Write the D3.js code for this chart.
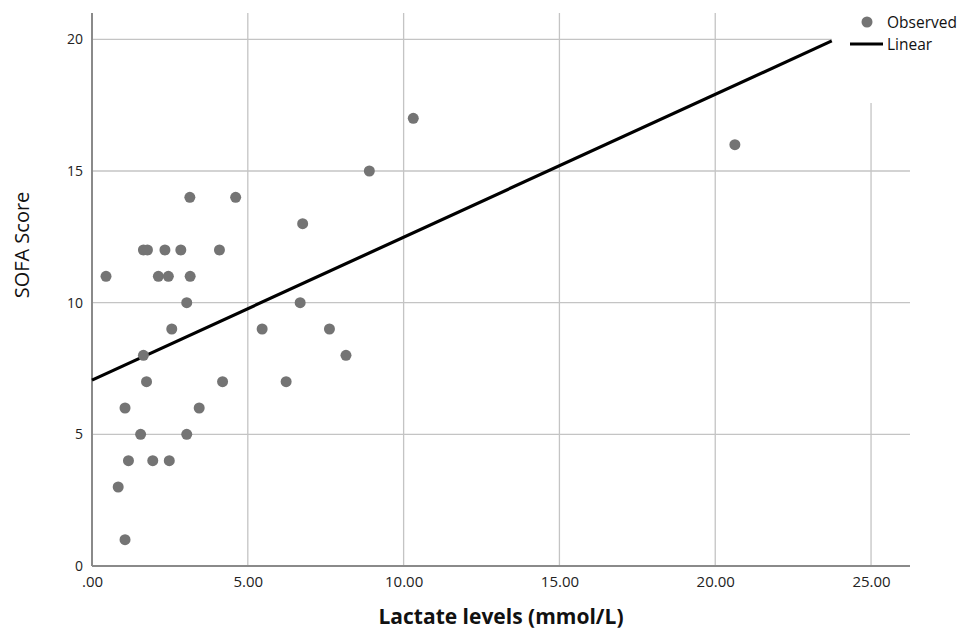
<!DOCTYPE html>
<html>
<head>
<meta charset="utf-8">
<script src="https://cdn.jsdelivr.net/npm/d3@7"></script>
<style>
  html, body { margin: 0; padding: 0; background: #fff; }
  svg { display: block; }
</style>
</head>
<body>
<div id="chart"></div>
<script>
// Observed points: lactate (mmol/L) vs SOFA score
const lactate = [3.14, 4.61, 1.65, 1.78, 2.34, 2.85, 4.09, 0.45, 2.13, 2.45, 3.15, 3.04,
                 2.56, 5.46, 1.65, 1.75, 4.19, 1.06, 3.44, 1.56, 3.04, 1.17, 1.95, 2.48,
                 0.84, 1.06, 10.31, 8.90, 20.63, 6.76, 6.68, 7.62, 8.15, 6.23];
const sofa    = [14, 14, 12, 12, 12, 12, 12, 11, 11, 11, 11, 10,
                 9, 9, 8, 7, 7, 6, 6, 5, 5, 4, 4, 4,
                 3, 1, 17, 15, 16, 13, 10, 9, 8, 7];

// Linear fit line endpoints
const fitX = [0, 23.74];
const fitY = [7.06, 19.94];

const xTicks = [0, 5, 10, 15, 20, 25];
const yTicks = [0, 5, 10, 15, 20];

const width = 969, height = 630;
const plot = {left: 92, right: 910, top: 13, bottom: 566};

const svg = d3.select('#chart').append('svg')
    .attr('width', width)
    .attr('height', height);

const x = d3.scaleLinear().domain([0, 26.25]).range([plot.left, plot.right]);
const y = d3.scaleLinear().domain([0, 21]).range([plot.bottom, plot.top]);

const gridColor = '#c4c4c4';

// vertical grid lines (the 25 line stops below the legend)
svg.append('g').selectAll('line')
    .data(xTicks.filter(d => d > 0))
    .enter().append('line')
    .attr('x1', d => x(d)).attr('x2', d => x(d))
    .attr('y1', plot.bottom)
    .attr('y2', d => d === 25 ? 103 : plot.top)
    .attr('stroke', gridColor)
    .attr('stroke-width', 1.3);

// horizontal grid lines (the 20 line stops at the legend)
svg.append('g').selectAll('line')
    .data(yTicks.filter(d => d > 0))
    .enter().append('line')
    .attr('x1', plot.left)
    .attr('x2', d => d === 20 ? x(fitX[1]) : plot.right)
    .attr('y1', d => y(d)).attr('y2', d => y(d))
    .attr('stroke', gridColor)
    .attr('stroke-width', 1.3);

// axes
const xAxis = d3.axisBottom(x).tickValues(xTicks).tickSize(0).tickPadding(10)
    .tickFormat(d => d === 0 ? '.00' : d3.format('.2f')(d));
const gx = svg.append('g')
    .attr('transform', `translate(0,${plot.bottom})`)
    .call(xAxis);
gx.select('.domain').attr('stroke', '#8a8a8a').attr('stroke-width', 2)
    .attr('d', `M${plot.left},0H${plot.right}`);
gx.selectAll('text')
    .style('font-family', '"Open Sans", sans-serif')
    .style('font-size', '15px')
    .style('fill', '#222');

const yAxis = d3.axisLeft(y).tickValues(yTicks).tickSize(0).tickPadding(9);
const gy = svg.append('g')
    .attr('transform', `translate(${plot.left},0)`)
    .call(yAxis);
gy.select('.domain').attr('stroke', '#8a8a8a').attr('stroke-width', 2)
    .attr('d', `M0,${plot.bottom}V${plot.top}`);
gy.selectAll('text')
    .style('font-family', '"Open Sans", sans-serif')
    .style('font-size', '14px')
    .style('fill', '#222');

// regression line
svg.append('line')
    .attr('x1', x(fitX[0])).attr('y1', y(fitY[0]))
    .attr('x2', x(fitX[1])).attr('y2', y(fitY[1]))
    .attr('stroke', '#000')
    .attr('stroke-width', 3.2);

// points
svg.append('g').selectAll('circle')
    .data(lactate.map((v, i) => ({x: v, y: sofa[i]})))
    .enter().append('circle')
    .attr('cx', d => x(d.x))
    .attr('cy', d => y(d.y))
    .attr('r', 5.5)
    .attr('fill', '#747474');

// axis titles
svg.append('text')
    .attr('x', (plot.left + plot.right) / 2)
    .attr('y', 624)
    .attr('text-anchor', 'middle')
    .style('font-family', '"Open Sans", sans-serif')
    .style('font-size', '21px')
    .style('font-weight', 'bold')
    .style('fill', '#111')
    .text('Lactate levels (mmol/L)');

svg.append('text')
    .attr('transform', 'translate(29,245) rotate(-90)')
    .attr('text-anchor', 'middle')
    .style('font-family', '"Open Sans", sans-serif')
    .style('font-size', '20px')
    .style('fill', '#111')
    .text('SOFA Score');

// legend
const legend = svg.append('g');
legend.append('circle')
    .attr('cx', 867).attr('cy', 22).attr('r', 5.5)
    .attr('fill', '#747474');
legend.append('text')
    .attr('x', 887).attr('y', 28)
    .style('font-family', '"Open Sans", sans-serif')
    .style('font-size', '15.5px')
    .style('fill', '#111')
    .text('Observed');
legend.append('line')
    .attr('x1', 850).attr('x2', 883)
    .attr('y1', 44).attr('y2', 44)
    .attr('stroke', '#000').attr('stroke-width', 3.2);
legend.append('text')
    .attr('x', 887).attr('y', 50)
    .style('font-family', '"Open Sans", sans-serif')
    .style('font-size', '15.5px')
    .style('fill', '#111')
    .text('Linear');
</script>
</body>
</html>
